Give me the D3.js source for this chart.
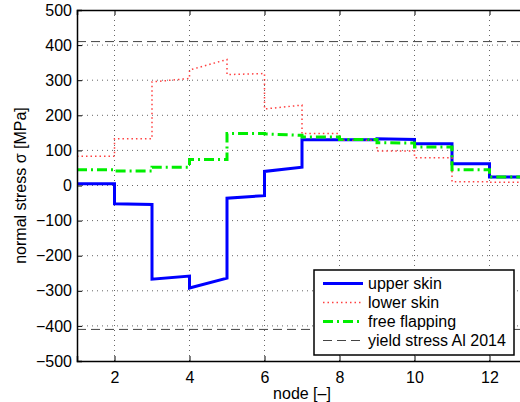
<!DOCTYPE html>
<html>
<head>
<meta charset="utf-8">
<script src="https://cdn.jsdelivr.net/npm/d3@7"></script>
<style>
  body { margin: 0; background: #fff; }
  svg { display: block; font-family: "Liberation Sans", Arial, sans-serif; }
</style>
</head>
<body>
<svg id="chart" width="520" height="402"></svg>
<script>
// node positions and element stresses (start / end of each element)
const nodes = [1, 2, 3, 4, 5, 6, 7, 8, 9, 10, 11, 12, 13];
const upperStart = [5, -52, -267, -292, -36, 40, 130, 130, 133, 119, 62, 24];
const upperEnd = [5, -54, -258, -264, -29, 52, 130, 130, 131, 119, 62, 24];
const lowerStart = [83, 133, 295, 329, 316, 218, 148, 129, 98, 79, 11, 9];
const lowerEnd = [83, 133, 305, 359, 319, 229, 148, 129, 98, 79, 11, 9];
const flapStart = [45, 41, 52, 74, 148, 147, 138, 131, 122, 110, 45, 24];
const flapEnd = [45, 41, 52, 74, 148, 143, 138, 131, 121, 110, 45, 24];
const yieldStress = 410;
const xTicks = [2, 4, 6, 8, 10, 12];
const yTicks = [-500, -400, -300, -200, -100, 0, 100, 200, 300, 400, 500];
const seriesNames = ["upper skin", "lower skin", "free flapping", "yield stress Al 2014"];

const margin = { top: 10, left: 77 };
const width = 450;
const height = 351;
const fontSize = 16;

const svg = d3.select("#chart");
const g = svg.append("g").attr("transform", `translate(${margin.left},${margin.top})`);

const x = d3.scaleLinear().domain([1, 13]).range([0, width]);
const y = d3.scaleLinear().domain([-500, 500]).range([height, 0]);

// grid
g.append("g")
  .selectAll("line")
  .data(xTicks)
  .join("line")
  .attr("x1", d => x(d)).attr("x2", d => x(d))
  .attr("y1", 0).attr("y2", height)
  .attr("stroke", "#666").attr("stroke-width", 1)
  .attr("stroke-dasharray", "1,4");
g.append("g")
  .selectAll("line")
  .data(yTicks.slice(1, -1))
  .join("line")
  .attr("x1", 0).attr("x2", width)
  .attr("y1", d => y(d)).attr("y2", d => y(d))
  .attr("stroke", "#666").attr("stroke-width", 1)
  .attr("stroke-dasharray", "1,4");

// build step-wise polylines from element start/end values
function elementPoints(starts, ends) {
  const pts = [];
  starts.forEach((s, i) => {
    pts.push([nodes[i], s]);
    pts.push([nodes[i + 1], ends[i]]);
  });
  return pts;
}

const line = d3.line().x(d => x(d[0])).y(d => y(d[1]));

const styles = [
  { color: "#0000ff", width: 3, dash: null },
  { color: "#ff4040", width: 1.5, dash: "1.5,3" },
  { color: "#00ee00", width: 3, dash: "10,4,2,4" },
  { color: "#444", width: 1, dash: "9,5" }
];

[yieldStress, -yieldStress].forEach(v => {
  g.append("path")
    .attr("d", line([[1, v], [13, v]]))
    .attr("fill", "none")
    .attr("stroke", styles[3].color)
    .attr("stroke-width", styles[3].width)
    .attr("stroke-dasharray", styles[3].dash);
});

const series = [
  elementPoints(upperStart, upperEnd),
  elementPoints(lowerStart, lowerEnd),
  elementPoints(flapStart, flapEnd)
];

series.forEach((pts, i) => {
  g.append("path")
    .attr("d", line(pts))
    .attr("fill", "none")
    .attr("stroke", styles[i].color)
    .attr("stroke-width", styles[i].width)
    .attr("stroke-dasharray", styles[i].dash);
});

// axes (ticks inside, like matlab)
const xAxis = g.append("g").attr("transform", `translate(0,${height})`)
  .call(d3.axisBottom(x).tickValues(xTicks).tickSize(-5).tickPadding(11));
const xAxisTop = g.append("g")
  .call(d3.axisTop(x).tickValues(xTicks).tickSize(-5).tickFormat(""));
const yAxis = g.append("g")
  .call(d3.axisLeft(y).tickValues(yTicks).tickSize(-5).tickPadding(5));

[xAxis, xAxisTop, yAxis].forEach(a => {
  a.select(".domain").attr("stroke", "#000").attr("stroke-width", 1.5);
  a.selectAll(".tick line").attr("stroke", "#000");
  a.selectAll(".tick text").attr("font-size", fontSize).attr("fill", "#000")
    .attr("font-family", "Liberation Sans, Arial, sans-serif");
});

// labels
svg.append("text")
  .attr("x", margin.left + width / 2).attr("y", 399)
  .attr("text-anchor", "middle").attr("font-size", fontSize)
  .text("node [\u2013]");
svg.append("text")
  .attr("transform", `translate(26,${margin.top + height / 2}) rotate(-90)`)
  .attr("text-anchor", "middle").attr("font-size", fontSize)
  .text("normal stress \u03c3 [MPa]");

// legend
const legend = svg.append("g").attr("transform", "translate(314,270)");
legend.append("rect")
  .attr("width", 200).attr("height", 85)
  .attr("fill", "#fff").attr("stroke", "#000").attr("stroke-width", 1.5);
seriesNames.forEach((name, i) => {
  const yy = 13.5 + i * 19;
  legend.append("line")
    .attr("x1", 9).attr("x2", 49).attr("y1", yy).attr("y2", yy)
    .attr("stroke", styles[i].color)
    .attr("stroke-width", styles[i].width)
    .attr("stroke-dasharray", styles[i].dash);
  legend.append("text")
    .attr("x", 54).attr("y", yy + 5.5)
    .attr("font-size", fontSize)
    .text(name);
});
</script>
</body>
</html>
